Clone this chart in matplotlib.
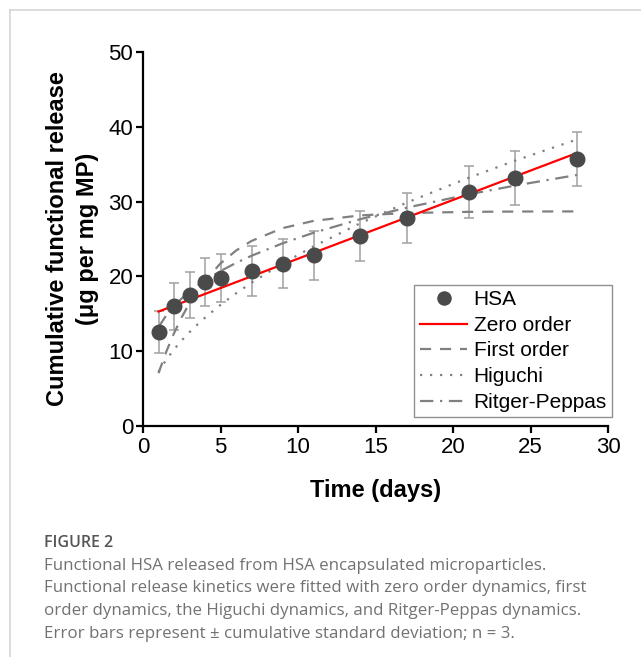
import matplotlib
matplotlib.use("Agg")
import matplotlib.pyplot as plt
from matplotlib.lines import Line2D

# ---- data ----
days = [1, 2, 3, 4, 5, 7, 9, 11, 14, 17, 21, 24, 28]
hsa = [12.6, 16.0, 17.5, 19.2, 19.8, 20.7, 21.7, 22.8, 25.4, 27.8, 31.3, 33.2, 35.7]
hsa_err = [2.8, 3.1, 3.1, 3.2, 3.2, 3.3, 3.3, 3.3, 3.4, 3.4, 3.5, 3.6, 3.6]

zero_t = [1, 28]
zero_y = [15.3, 36.5]

fit_t = [1, 1.5, 2, 2.5, 3, 3.5, 4, 5, 6, 7, 9, 11, 14, 17, 21, 24, 28]
first_y = [7.07, 9.93, 12.40, 14.55, 16.42, 18.04, 19.45, 21.73, 23.45, 24.74,
           26.45, 27.42, 28.15, 28.47, 28.63, 28.67, 28.69]
higuchi_y = [7.24, 8.87, 10.24, 11.45, 12.54, 13.54, 14.48, 16.19, 17.73, 19.16,
             21.72, 24.01, 27.09, 29.85, 33.18, 35.47, 38.31]
ritger_y = [13.2, 14.79, 16.02, 17.06, 17.95, 18.75, 19.46, 20.71, 21.80, 22.76,
            24.42, 25.83, 27.64, 29.18, 30.96, 32.14, 33.56]

x_ticks = [0, 5, 10, 15, 20, 25, 30]
y_ticks = [0, 10, 20, 30, 40, 50]

caption_title = "FIGURE 2"
caption_lines = [
    "Functional HSA released from HSA encapsulated microparticles.",
    "Functional release kinetics were fitted with zero order dynamics, first",
    "order dynamics, the Higuchi dynamics, and Ritger-Peppas dynamics.",
    "Error bars represent \u00b1 cumulative standard deviation; n = 3.",
]

plt.rcParams['font.family'] = ['Liberation Sans', 'DejaVu Sans']

W, H = 641, 657
fig = plt.figure(figsize=(W / 100, H / 100), dpi=100)
fig.patch.set_facecolor('white')

ax = fig.add_axes([143 / W, 1 - 426 / H, (608 - 143) / W, (426 - 52) / H])

grey = '#808080'
ax.plot(fit_t, first_y, color=grey, lw=1.6, dashes=(5, 4), label='First order', zorder=2)
ax.plot(fit_t, higuchi_y, color=grey, lw=1.6, dashes=(1, 3.5), label='Higuchi', zorder=2)
ax.plot(fit_t, ritger_y, color=grey, lw=1.6, dashes=(6, 3, 1, 3), label='Ritger-Peppas', zorder=2)
ax.plot(zero_t, zero_y, color='#ff0000', lw=1.6, label='Zero order', zorder=3)
ax.errorbar(days, hsa, yerr=hsa_err, fmt='none', ecolor='#a0a0a0', elinewidth=1.1,
            capsize=3.5, capthick=1.1, zorder=1)
ax.plot(days, hsa, 'o', color='#4a4a4a', markersize=10.5, label='HSA', zorder=4, linestyle='none')

ax.set_xlim(0, 30)
ax.set_ylim(0, 50)
ax.set_xticks(x_ticks)
ax.set_yticks(y_ticks)
for s in ['top', 'right']:
    ax.spines[s].set_visible(False)
for s in ['left', 'bottom']:
    ax.spines[s].set_linewidth(1.6)
ax.tick_params(axis='both', direction='out', length=5, width=1.6, labelsize=16, pad=2)
ax.tick_params(axis='x', pad=3)

ax.set_xlabel('Time (days)', fontsize=17, fontweight='bold', labelpad=15)
ax.set_ylabel('Cumulative functional release\n(\u03bcg per mg MP)', fontsize=17,
              fontweight='bold', labelpad=6.5, linespacing=1.4)

handles, labels = ax.get_legend_handles_labels()
order = ['HSA', 'Zero order', 'First order', 'Higuchi', 'Ritger-Peppas']
hmap = dict(zip(labels, handles))
leg = ax.legend([hmap[k] for k in order], order, loc='lower right',
                bbox_to_anchor=(1.009, 0.024), borderaxespad=0, fontsize=15,
                frameon=True, fancybox=False, edgecolor='#909090', framealpha=1,
                labelspacing=0.32, handlelength=2.3, handletextpad=0.3,
                borderpad=0.25, markerscale=0.9)
leg.get_frame().set_linewidth(1.0)

# panel frame (top and left border)
fig.add_artist(Line2D([10 / W, 1], [1 - 10 / H, 1 - 10 / H], transform=fig.transFigure,
                      color='#d5d5d5', lw=1.2))
fig.add_artist(Line2D([10 / W, 10 / W], [0, 1 - 10 / H], transform=fig.transFigure,
                      color='#d5d5d5', lw=1.2))

# caption
fig.text(44 / W, 1 - 543 / H, caption_title, fontsize=11.5, color='#555555',
         family=['Open Sans', 'DejaVu Sans'], fontweight='semibold', va='center', ha='left',
         fontstretch='condensed')
for i, line in enumerate(caption_lines):
    fig.text(44 / W, 1 - (566 + 22.5 * i) / H, line, fontsize=12.2, color='#727272',
             family=['Open Sans', 'DejaVu Sans'], va='center', ha='left')

fig.savefig('out.png', dpi=100, facecolor='white')
